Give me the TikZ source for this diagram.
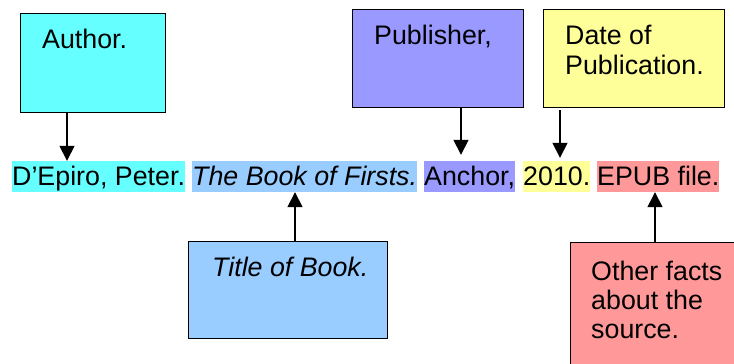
\documentclass[tikz,border=0pt]{standalone}
\usepackage{fontspec}
\setmainfont{Liberation Sans}
\usetikzlibrary{arrows.meta}
\definecolor{ccyan}{HTML}{66FFFF}
\definecolor{cblue}{HTML}{99CCFF}
\definecolor{cpurple}{HTML}{9999FF}
\definecolor{cyellow}{HTML}{FFFF99}
\definecolor{cpink}{HTML}{FF9999}
\tikzset{
  bigfont/.style={font=\fontsize{26.8}{29}\selectfont},
  boxnode/.style={draw=black, line width=1.4pt, inner sep=0pt, anchor=north west},
  lbl/.style={bigfont, inner sep=0pt, anchor=base west, align=left},
  hl/.style={bigfont, inner sep=0pt, text height=24pt, text depth=7pt, anchor=base west},
  arr/.style={line width=1.6pt, -{Triangle[width=15pt,length=15pt]}}
}
\begin{document}
\begin{tikzpicture}[x=1pt,y=-1pt]
\clip (0,0) rectangle (734,364);
\fill[white] (0,0) rectangle (734,364);
% boxes
\node[boxnode, fill=ccyan, minimum width=145pt, minimum height=99pt] (author) at (20,13) {};
\node[boxnode, fill=cpurple, minimum width=171pt, minimum height=98pt] (publ) at (352,9) {};
\node[boxnode, fill=cyellow, minimum width=181pt, minimum height=98pt] (date) at (543,9) {};
\node[boxnode, fill=cblue, minimum width=199pt, minimum height=97pt] (title) at (188,241) {};
\node[boxnode, fill=cpink, minimum width=180pt, minimum height=140pt] (other) at (570,242) {};
% box texts (base = baseline of last line)
\node[lbl] (tauthor) at (42,48) {Author.};
\node[lbl] (tpubl) at (374,45) {Publisher,};
\node[lbl] (tdate) at (565,74) {Date of\\Publication.};
\node[lbl] (ttitle) at (212,276) {\itshape Title of Book.};
\node[lbl] (tother) at (591,338) {Other facts\\about the\\source.};
% citation row
\node[hl, fill=ccyan] (c1) at (12,185) {D’Epiro, Peter.};
\node[hl, fill=cblue] (c2) at (192,185) {\itshape The Book of Firsts.};
\node[hl, fill=cpurple] (c3) at (424,185) {Anchor,};
\node[hl, fill=cyellow] (c4) at (523,185) {2010.};
\node[hl, fill=cpink] (c5) at (597,185) {EPUB file.};
% arrows
\draw[arr] (author.south -| 67,0) -- (c1.north -| 67,0);
\draw[arr, shorten >=6pt] (publ.south -| 461,0) -- (c3.north -| 461,0);
\draw[arr, shorten >=3pt, shorten <=2pt] (date.south -| 560,0) -- (c4.north -| 560,0);
\draw[arr] (title.north -| 295,0) -- (c2.south -| 295,0);
\draw[arr] (other.north -| 655,0) -- (c5.south -| 655,0);
\end{tikzpicture}
\end{document}
